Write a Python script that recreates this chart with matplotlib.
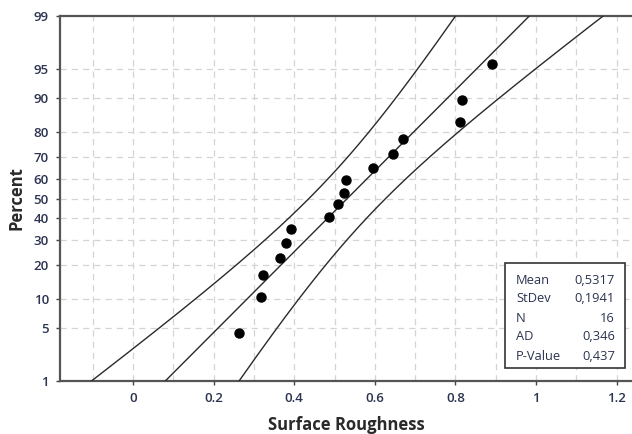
import math
import numpy as np
import matplotlib
matplotlib.use('Agg')
import matplotlib.pyplot as plt
from matplotlib.ticker import FixedLocator, FixedFormatter, NullFormatter, NullLocator

# ---- data ----
roughness = [0.263, 0.318, 0.323, 0.365, 0.380, 0.392, 0.486, 0.508,
             0.524, 0.529, 0.596, 0.645, 0.670, 0.811, 0.816, 0.891]
percent = [4.3, 10.4, 16.5, 22.6, 28.7, 34.8, 40.9, 47.0,
           53.0, 59.1, 65.2, 71.3, 77.4, 83.5, 89.6, 95.7]
y_ticks = [1, 5, 10, 20, 30, 40, 50, 60, 70, 80, 90, 95, 99]
x_ticks = [0, 0.2, 0.4, 0.6, 0.8, 1.0, 1.2]
x_tick_labels = ['0', '0.2', '0.4', '0.6', '0.8', '1', '1.2']
x_grid = [-0.1, 0, 0.1, 0.2, 0.3, 0.4, 0.5, 0.6, 0.7, 0.8, 0.9, 1.0, 1.1, 1.2]
stat_names = ['Mean', 'StDev', 'N', 'AD', 'P-Value']
stat_values = ['0,5317', '0,1941', '16', '0,346', '0,437']
mean = 0.5317
stdev = 0.1941
n_obs = 16
conf_z = 1.96


# ---- normal probability helpers ----
def norm_ppf(p):
    p = np.clip(np.asarray(p, dtype=float), 1e-9, 1 - 1e-9)
    a = [-3.969683028665376e+01, 2.209460984245205e+02, -2.759285104469687e+02,
         1.383577518672690e+02, -3.066479806614716e+01, 2.506628277459239e+00]
    b = [-5.447609879822406e+01, 1.615858368580409e+02, -1.556989798598866e+02,
         6.680131188771972e+01, -1.328068155288572e+01]
    c = [-7.784894002430293e-03, -3.223964580411365e-01, -2.400758277161838e+00,
         -2.549732539343734e+00, 4.374664141464968e+00, 2.938163982698783e+00]
    d = [7.784695709041462e-03, 3.224671290700398e-01, 2.445134137142996e+00,
         3.754408661907416e+00]
    plow = 0.02425
    phigh = 1 - plow
    out = np.zeros_like(p)
    lo = p < plow
    hi = p > phigh
    mid = ~(lo | hi)
    q = np.sqrt(-2 * np.log(p[lo]))
    out[lo] = (((((c[0]*q+c[1])*q+c[2])*q+c[3])*q+c[4])*q+c[5]) / \
              ((((d[0]*q+d[1])*q+d[2])*q+d[3])*q+1)
    q = np.sqrt(-2 * np.log(1 - p[hi]))
    out[hi] = -(((((c[0]*q+c[1])*q+c[2])*q+c[3])*q+c[4])*q+c[5]) / \
               ((((d[0]*q+d[1])*q+d[2])*q+d[3])*q+1)
    q = p[mid] - 0.5
    r = q * q
    out[mid] = (((((a[0]*r+a[1])*r+a[2])*r+a[3])*r+a[4])*r+a[5])*q / \
               (((((b[0]*r+b[1])*r+b[2])*r+b[3])*r+b[4])*r+1)
    return out


_erf = np.vectorize(math.erf)


def norm_cdf(z):
    return 0.5 * (1 + _erf(np.asarray(z, dtype=float) / math.sqrt(2)))


def fwd(pct):
    return norm_ppf(np.asarray(pct, dtype=float) / 100.0)


def inv(z):
    return norm_cdf(z) * 100.0


# ---- figure ----
plt.rcParams['font.family'] = ['Open Sans', 'DejaVu Sans']
fig = plt.figure(figsize=(6.32, 4.34), dpi=100)
ax = fig.add_axes([60/632, 1 - 381/434, 1 - 60/632, (381 - 16)/434])
ax.set_yscale('function', functions=(fwd, inv))

# fitted line and confidence bands
pgrid = np.linspace(0.3, 99.7, 400)
z = norm_ppf(pgrid / 100.0)
fit = mean + stdev * z
half = conf_z * stdev * np.sqrt(1.0 / n_obs + z**2 / (2.0 * n_obs))
line_kw = dict(color='#2a2a2a', lw=1.0, zorder=3)
ax.plot(fit, pgrid, **line_kw)
ax.plot(fit - half, pgrid, **line_kw)
ax.plot(fit + half, pgrid, **line_kw)

ax.plot(roughness, percent, 'o', color='black', markersize=6.5, zorder=4)

ax.set_xlim(-0.181, 1.238)
ax.set_ylim(1, 99)

# grid
for gx in x_grid:
    ax.axvline(gx, color='#d4d4d4', lw=0.9, ls=(0, (5, 4)), zorder=1)
for gy in y_ticks[1:-1]:
    ax.axhline(gy, color='#d4d4d4', lw=0.9, ls=(0, (5, 4)), zorder=1)

tick_color = '#2b3350'
ax.yaxis.set_major_locator(FixedLocator(y_ticks))
ax.yaxis.set_major_formatter(FixedFormatter([str(v) for v in y_ticks]))
ax.yaxis.set_minor_locator(NullLocator())
ax.yaxis.set_minor_formatter(NullFormatter())
ax.set_xticks(x_ticks)
ax.set_xticklabels(x_tick_labels)
ax.tick_params(axis='both', direction='out', length=3, width=1.0,
               color='#444444', labelcolor=tick_color, labelsize=9.5, pad=5)
for lab in ax.get_xticklabels() + ax.get_yticklabels():
    lab.set_fontweight('semibold')

for side in ['left', 'bottom', 'top']:
    ax.spines[side].set_color('#555555')
    ax.spines[side].set_linewidth(1.6)
ax.spines['right'].set_visible(False)

ax.set_xlabel('Surface Roughness', fontsize=12, fontweight='bold', color='#2a2a2a', labelpad=8)
ax.set_ylabel('Percent', fontsize=12, fontweight='bold', color='#2a2a2a', labelpad=6)

# stats box
bx0, bx1 = 505, 625
by0, by1 = 263, 368
fig.patches.append(plt.Rectangle((bx0/632, 1 - by1/434), (bx1 - bx0)/632, (by1 - by0)/434,
                                 transform=fig.transFigure, fill=True, facecolor='white',
                                 edgecolor='#333333', lw=1.2, zorder=10))
row_y = [280, 299, 318, 337, 356]
for name, val, yy in zip(stat_names, stat_values, row_y):
    fig.text(516/632, 1 - yy/434, name, fontsize=9.3, color=tick_color,
             va='center', ha='left', zorder=11)
    fig.text(615/632, 1 - yy/434, val, fontsize=9.3, color=tick_color,
             va='center', ha='right', zorder=11)

fig.savefig('out.png', dpi=100)
